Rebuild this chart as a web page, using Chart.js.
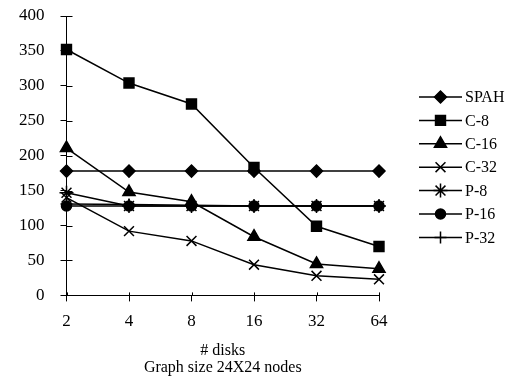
<!DOCTYPE html>
<html>
<head>
<meta charset="utf-8">
<script src="https://cdn.jsdelivr.net/npm/chart.js@4/dist/chart.umd.min.js"></script>
<style>
  html, body { margin: 0; padding: 0; background: #fff; }
  #wrap { width: 530px; height: 381px; }
</style>
</head>
<body>
<div id="wrap"><canvas id="myChart" width="530" height="381"></canvas></div>
<script>
// x categories (# disks)
var disks = ['2', '4', '8', '16', '32', '64'];
var yTicks = [0, 50, 100, 150, 200, 250, 300, 350, 400];

// series values
var spah = [178, 178, 178, 178, 178, 178];
var c8   = [352, 304, 274, 183, 99, 70];
var c16  = [211, 148, 134, 84, 45, 38];
var c32  = [140, 92, 78, 44, 28, 23];
var p8   = [147, 128, 128, 128, 128, 128];
var p16  = [128, 128, 128, 128, 128, 128];
var p32  = [131, 130, 129, 128, 128, 128];

var seriesNames = ['SPAH', 'C-8', 'C-16', 'C-32', 'P-8', 'P-16', 'P-32'];
var seriesData = [spah, c8, c16, c32, p8, p16, p32];
var pointStyles = ['rectRot', 'rect', 'triangle', 'crossRot', 'star', 'circle', 'cross'];
var pointSizes = [6, 7, 7, 7, 7, 5, 6];

var serif = "'Liberation Serif', 'Times New Roman', serif";

var datasets = [];
for (var i = 0; i < seriesNames.length; i++) {
  datasets.push({
    label: seriesNames[i],
    data: seriesData[i],
    borderColor: '#000',
    backgroundColor: '#000',
    borderWidth: 1.5,
    pointStyle: pointStyles[i],
    pointRadius: pointSizes[i],
    pointBorderWidth: 1.5,
    pointBorderColor: '#000',
    pointBackgroundColor: '#000',
    tension: 0,
    fill: false
  });
}

// short tick marks on the inner side of the axes
var innerTicks = {
  id: 'innerTicks',
  afterDraw: function (chart) {
    var ctx = chart.ctx;
    var xs = chart.scales.x, ys = chart.scales.y;
    ctx.save();
    ctx.strokeStyle = '#000';
    ctx.lineWidth = 1;
    ctx.beginPath();
    for (var i = 0; i < ys.ticks.length; i++) {
      var y = Math.round(ys.getPixelForTick(i)) + 0.5;
      ctx.moveTo(ys.right, y);
      ctx.lineTo(ys.right + 6, y);
    }
    for (var j = 0; j < xs.ticks.length; j++) {
      var x = Math.round(xs.getPixelForTick(j)) + 0.5;
      ctx.moveTo(x, xs.top);
      ctx.lineTo(x, xs.top - 3);
    }
    ctx.stroke();
    ctx.restore();
  }
};

// legend: line with marker in the middle, label to the right
var sideLegend = {
  id: 'sideLegend',
  afterDraw: function (chart) {
    var ctx = chart.ctx;
    var left = chart.chartArea.right + 40;
    var top = 97;
    ctx.save();
    ctx.font = '16px ' + serif;
    ctx.textBaseline = 'middle';
    ctx.fillStyle = '#000';
    for (var i = 0; i < chart.data.datasets.length; i++) {
      var ds = chart.data.datasets[i];
      var y = top + i * 23.4;
      ctx.strokeStyle = '#000';
      ctx.lineWidth = 1.5;
      ctx.beginPath();
      ctx.moveTo(left, y);
      ctx.lineTo(left + 43, y);
      ctx.stroke();
      Chart.helpers.drawPoint(ctx, {
        pointStyle: ds.pointStyle,
        radius: ds.pointRadius,
        borderWidth: 1.5
      }, left + 21.5, y);
      ctx.fill();
      ctx.fillText(ds.label, left + 46, y + 1);
    }
    ctx.restore();
  }
};

var ctx = document.getElementById('myChart').getContext('2d');
var myChart = new Chart(ctx, {
  type: 'line',
  data: { labels: disks, datasets: datasets },
  plugins: [innerTicks, sideLegend],
  options: {
    responsive: false,
    animation: false,
    layout: { padding: { left: 3, right: 151, top: 16, bottom: 5 } },
    plugins: {
      legend: { display: false },
      tooltip: { enabled: false }
    },
    scales: {
      x: {
        offset: false,
        grid: { drawOnChartArea: false, color: '#000', tickLength: 6, lineWidth: 1 },
        border: { color: '#000', width: 1 },
        ticks: { color: '#000', font: { family: serif, size: 17, lineHeight: 1.0 }, padding: 12, maxRotation: 0 },
        title: {
          display: true,
          text: ['# disks', 'Graph size 24X24 nodes'],
          color: '#000',
          font: { family: serif, size: 16, lineHeight: 1.05 },
          padding: { top: 0, bottom: 0 }
        }
      },
      y: {
        min: 0,
        max: 400,
        afterBuildTicks: function (scale) {
          scale.ticks = yTicks.map(function (v) { return { value: v }; });
        },
        afterFit: function (scale) {
          scale.paddingTop = 0;
          scale.paddingBottom = 0;
        },
        grid: { drawOnChartArea: false, color: '#000', tickLength: 6, lineWidth: 1 },
        border: { color: '#000', width: 1 },
        ticks: { color: '#000', font: { family: serif, size: 17 }, padding: 16 }
      }
    }
  }
});
</script>
</body>
</html>
